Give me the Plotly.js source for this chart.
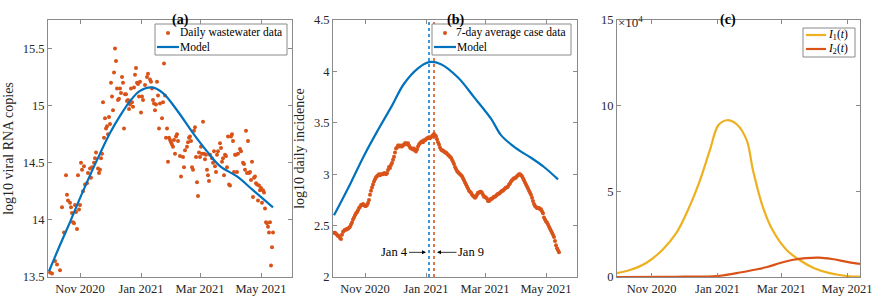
<!DOCTYPE html>
<html><head><meta charset="utf-8">
<script src="https://cdn.plot.ly/plotly-3.0.1.min.js"></script>
<style>html,body{margin:0;padding:0;background:#fff}#chart{width:874px;height:303px}</style>
</head><body><div id="chart"></div>
<script>
// ---------- Panel (a): daily wastewater data ----------
const wwDates = [
'2020-10-02','2020-10-04','2020-10-07','2020-10-09','2020-10-12','2020-10-14','2020-10-16','2020-10-18','2020-10-19','2020-10-20',
'2020-10-22','2020-10-23','2020-10-24','2020-10-25','2020-10-26','2020-10-27','2020-10-28','2020-10-29','2020-10-30','2020-10-31',
'2020-11-01','2020-11-02','2020-11-03','2020-11-04','2020-11-05','2020-11-06','2020-11-08','2020-11-09','2020-11-11','2020-11-12',
'2020-11-13','2020-11-15','2020-11-16','2020-11-17','2020-11-19','2020-11-20','2020-11-21','2020-11-22','2020-11-23','2020-11-24',
'2020-11-25','2020-11-26','2020-11-27','2020-11-28','2020-11-29','2020-11-30',
'2020-12-01','2020-12-02','2020-12-03','2020-12-04','2020-12-05','2020-12-06','2020-12-07','2020-12-08','2020-12-09','2020-12-10',
'2020-12-11','2020-12-12','2020-12-13','2020-12-14','2020-12-15','2020-12-16','2020-12-17','2020-12-18','2020-12-19','2020-12-20',
'2020-12-21','2020-12-22','2020-12-23','2020-12-24','2020-12-25','2020-12-26','2020-12-27','2020-12-28','2020-12-29','2020-12-30','2020-12-31',
'2021-01-01','2021-01-02','2021-01-03','2021-01-05','2021-01-07','2021-01-08','2021-01-10','2021-01-11','2021-01-12','2021-01-13',
'2021-01-14','2021-01-15','2021-01-16','2021-01-17','2021-01-18','2021-01-19','2021-01-20','2021-01-22','2021-01-23','2021-01-24',
'2021-01-25','2021-01-26','2021-01-27','2021-01-28','2021-01-29','2021-01-30','2021-01-31',
'2021-02-01','2021-02-02','2021-02-03','2021-02-04','2021-02-05','2021-02-06','2021-02-07','2021-02-09','2021-02-10','2021-02-12',
'2021-02-13','2021-02-14','2021-02-16','2021-02-17','2021-02-18','2021-02-19','2021-02-20','2021-02-21','2021-02-22','2021-02-23',
'2021-02-24','2021-02-25','2021-02-26','2021-02-27','2021-02-28',
'2021-03-01','2021-03-02','2021-03-03','2021-03-04','2021-03-05','2021-03-06','2021-03-07','2021-03-08','2021-03-09','2021-03-10',
'2021-03-11','2021-03-13','2021-03-14','2021-03-15','2021-03-16','2021-03-17','2021-03-18','2021-03-19','2021-03-21','2021-03-22',
'2021-03-23','2021-03-24','2021-03-25','2021-03-26','2021-03-27','2021-03-28','2021-03-29','2021-03-30','2021-03-31',
'2021-04-01','2021-04-02','2021-04-03','2021-04-04','2021-04-05','2021-04-06','2021-04-07','2021-04-08','2021-04-10','2021-04-11',
'2021-04-13','2021-04-14','2021-04-15','2021-04-16','2021-04-17','2021-04-18','2021-04-19','2021-04-20','2021-04-21','2021-04-22',
'2021-04-23','2021-04-24','2021-04-25','2021-04-26','2021-04-27','2021-04-28','2021-04-29','2021-04-30',
'2021-05-01','2021-05-02','2021-05-03','2021-05-04','2021-05-05','2021-05-06','2021-05-07','2021-05-08','2021-05-09','2021-05-10',
'2021-05-11','2021-05-12','2021-05-13'];
const wwValues = [
13.54,13.53,13.64,13.61,13.56,14.11,13.89,14.39,14.22,14.17,
14.15,14.11,14.06,13.98,13.97,14.13,14.07,13.92,14.39,14.09,
14.13,14.50,14.44,14.25,14.47,14.31,14.32,14.41,14.45,14.37,
14.46,14.50,14.54,14.59,14.45,14.41,14.44,14.54,14.58,15.03,
14.72,14.89,14.80,14.82,14.75,14.90,
14.84,15.20,15.08,14.96,15.29,15.50,15.39,15.15,15.05,15.06,
15.15,15.11,15.25,15.20,14.80,15.10,15.10,15.04,15.05,14.97,
15.01,15.15,15.03,14.99,15.16,15.27,15.33,15.20,15.19,15.08,15.21,
14.94,15.08,15.05,15.18,15.25,15.28,15.23,15.21,15.15,15.05,
15.02,14.96,15.01,15.21,15.09,14.80,15.02,14.89,15.03,15.37,
15.09,14.72,14.80,14.51,14.72,14.70,14.68,
14.66,14.64,14.70,14.58,14.73,14.75,14.69,14.56,14.38,14.55,
14.46,14.61,14.64,14.68,14.72,14.73,14.69,14.46,14.44,14.78,
14.81,14.55,14.33,14.21,14.59,
14.55,14.64,14.58,14.86,14.58,14.53,14.57,14.44,14.39,14.34,
14.57,14.54,14.50,14.60,14.47,14.42,14.57,14.60,14.67,14.63,
14.51,14.54,14.39,14.57,14.56,14.46,14.73,14.31,14.30,
14.73,14.75,14.69,14.42,14.57,14.57,14.42,14.58,14.62,14.60,
14.50,14.49,14.44,14.78,14.41,14.69,14.41,14.42,14.35,14.51,
14.20,14.37,14.38,14.32,14.31,14.17,14.30,14.26,
14.28,14.15,14.26,14.24,14.10,13.98,13.97,13.94,13.89,13.98,
13.60,13.76,13.89];
const wwModelDates = ['2020-10-01','2020-10-12','2020-10-22','2020-11-01','2020-11-11','2020-11-21','2020-12-01','2020-12-11','2020-12-21','2020-12-31',
'2021-01-12','2021-01-23','2021-02-06','2021-02-22','2021-03-08','2021-03-21','2021-04-07','2021-04-23','2021-05-13'];
const wwModelValues = [13.55,13.78,13.98,14.19,14.39,14.58,14.76,14.91,15.04,15.13,
15.16,15.11,14.96,14.76,14.60,14.47,14.38,14.26,14.11];

// ---------- Panel (b): 7-day average case data ----------
const caseStartDate = '2020-10-01';
const caseValues = [
2.43,2.43,2.42,2.41,2.40,2.40,2.38,2.37,2.41,2.44,2.45,2.46,2.46,2.47,2.47,2.48,2.49,2.51,2.53,2.56,2.58,2.60,2.62,2.63,2.65,2.67,2.68,2.70,2.70,2.71,2.70,
2.69,2.69,2.70,2.72,2.75,2.80,2.84,2.87,2.90,2.93,2.95,2.97,2.98,2.99,3.00,2.99,3.00,3.00,3.00,3.01,3.01,3.00,3.01,3.04,3.07,3.06,3.09,3.11,3.14,3.17,
3.21,3.25,3.26,3.28,3.28,3.27,3.28,3.27,3.28,3.29,3.30,3.30,3.29,3.30,3.28,3.26,3.25,3.25,3.24,3.25,3.23,3.22,3.24,3.27,3.29,3.30,3.31,3.32,3.31,3.33,3.33,
3.34,3.35,3.35,3.36,3.35,3.36,3.37,3.38,3.39,3.38,3.37,3.34,3.31,3.29,3.26,3.24,3.23,3.23,3.22,3.21,3.21,3.20,3.19,3.18,3.17,3.16,3.14,3.12,3.10,3.07,3.05,
3.03,3.02,3.01,3.00,2.99,2.98,2.96,2.94,2.92,2.90,2.88,2.86,2.84,2.83,2.82,2.80,2.79,2.78,2.77,2.78,2.80,2.82,2.82,2.83,2.83,2.82,2.80,2.78,
2.78,2.77,2.76,2.74,2.74,2.75,2.76,2.76,2.77,2.78,2.78,2.79,2.80,2.81,2.81,2.82,2.83,2.84,2.84,2.85,2.86,2.87,2.87,2.88,2.90,2.91,2.93,2.94,2.95,2.96,2.96,
2.97,2.98,2.99,3.00,3.00,2.99,2.98,2.96,2.94,2.92,2.90,2.88,2.86,2.84,2.82,2.80,2.77,2.74,2.71,2.69,2.68,2.67,2.67,2.67,2.66,2.66,2.64,2.62,2.58,2.56,
2.54,2.53,2.51,2.49,2.47,2.45,2.43,2.41,2.39,2.35,2.31,2.28,2.26,2.24];
const caseModelDates = ['2020-10-01','2020-10-18','2020-10-31','2020-11-14','2020-11-27','2020-12-10','2020-12-24','2021-01-04','2021-01-16',
'2021-02-02','2021-02-18','2021-03-07','2021-03-17','2021-03-27','2021-04-06','2021-04-16','2021-04-29','2021-05-13'];
const caseModelValues = [2.60,2.92,3.18,3.43,3.65,3.88,4.03,4.09,4.07,3.94,3.75,3.54,3.38,3.29,3.22,3.16,3.07,2.95];
const peakDates = ['2021-01-04','2021-01-09'];
const peakLabels = ['Jan 4','Jan 9'];

// ---------- Panel (c): I1(t), I2(t) ----------
const i1Dates = ['2020-09-30','2020-10-12','2020-10-27','2020-11-11','2020-11-24','2020-12-06','2020-12-15','2020-12-25','2021-01-02','2021-01-10',
'2021-01-19','2021-01-28','2021-02-03','2021-02-12','2021-02-21','2021-03-06','2021-03-18','2021-03-31','2021-04-15','2021-05-01','2021-05-13'];
const i1Values = [2300,4100,8200,15800,25700,40900,54900,74000,88700,91500,89000,80000,62000,40900,27400,15800,9900,5300,2300,600,200];
const i2Dates = ['2020-09-30','2020-11-15','2020-12-01','2020-12-31','2021-01-19','2021-02-03','2021-02-16','2021-02-28','2021-03-11','2021-03-24',
'2021-04-05','2021-04-17','2021-05-01','2021-05-13'];
const i2Values = [0,100,200,500,2300,4100,5800,8200,9900,11000,11300,10500,8800,7600];

// ---------- Tick labels / legend labels ----------
const monthTickVals = ['2020-11-01','2021-01-01','2021-03-01','2021-05-01'];
const monthTickText = ['Nov 2020','Jan 2021','Mar 2021','May 2021'];
const yTicksA = [13.5,14,14.5,15,15.5];
const yTickTextA = ['13.5','14','14.5','15','15.5'];
const yTicksB = [2,2.5,3,3.5,4,4.5];
const yTickTextB = ['2','2.5','3','3.5','4','4.5'];
const yTicksC = [0,50000,100000,150000];
const yTickTextC = ['0','5','10','15'];
const legendA = ['Daily wastewater data','Model'];
const legendB = ['7-day average case data','Model'];
const legendC = ['<i>I</i><sub>1</sub>(<i>t</i>)','<i>I</i><sub>2</sub>(<i>t</i>)'];

// daily dates for the case series
const caseDates = [];
(function(){
  const d0 = new Date(caseStartDate + 'T00:00:00Z');
  for (let i = 0; i < caseValues.length; i++) {
    caseDates.push(new Date(d0.getTime() + i*86400000).toISOString().slice(0,10));
  }
})();

const BLUE = '#0072BD', ORANGE = '#D95319', YELLOW = '#EDB120';
const SERIF = 'Liberation Serif, Times New Roman, serif';
const AXC = '#8a8a8a';
const W = 874, H = 303;
const yDom = [1-277/H, 1-20/H];
const px = v => v/W, py = v => 1 - v/H;
const TICK = 12.5;

function xax(dom, range, anchor) {
  return {domain: dom, range: range, type: 'date', anchor: anchor,
    tickmode: 'array', tickvals: monthTickVals, ticktext: monthTickText,
    ticks: 'inside', ticklen: 4, tickwidth: 1, tickcolor: AXC,
    showline: true, linecolor: AXC, linewidth: 1, mirror: 'ticks',
    showgrid: false, zeroline: false,
    tickfont: {family: SERIF, size: TICK, color: '#262626'}};
}
function yax(range, tv, tt, anchor, title) {
  const o = {domain: yDom, range: range, anchor: anchor,
    tickmode: 'array', tickvals: tv, ticktext: tt,
    ticks: 'inside', ticklen: 4, tickwidth: 1, tickcolor: AXC,
    showline: true, linecolor: AXC, linewidth: 1, mirror: 'ticks',
    showgrid: false, zeroline: false,
    tickfont: {family: SERIF, size: TICK, color: '#262626'}};
  if (title) o.title = {text: title, font: {family: SERIF, size: 14, color: '#262626'}, standoff: 5};
  return o;
}

const traces = [
  {x: wwDates, y: wwValues, type: 'scatter', mode: 'markers', name: legendA[0],
   marker: {color: ORANGE, size: 4}, xaxis: 'x', yaxis: 'y'},
  {x: wwModelDates, y: wwModelValues, type: 'scatter', mode: 'lines', name: legendA[1],
   line: {color: BLUE, width: 2.2, shape: 'spline', smoothing: 1}, xaxis: 'x', yaxis: 'y'},

  {x: [peakDates[0], peakDates[0]], y: [2, 4.5], type: 'scatter', mode: 'lines', name: peakLabels[0],
   line: {color: '#3d94d6', width: 2, dash: 'dot'}, xaxis: 'x2', yaxis: 'y2'},
  {x: [peakDates[1], peakDates[1]], y: [2, 4.5], type: 'scatter', mode: 'lines', name: peakLabels[1],
   line: {color: '#e0764a', width: 2, dash: 'dot'}, xaxis: 'x2', yaxis: 'y2'},
  {x: caseDates, y: caseValues, type: 'scatter', mode: 'markers', name: legendB[0],
   marker: {color: ORANGE, size: 4}, xaxis: 'x2', yaxis: 'y2'},
  {x: caseModelDates, y: caseModelValues, type: 'scatter', mode: 'lines', name: legendB[1],
   line: {color: BLUE, width: 2.2, shape: 'spline', smoothing: 1}, xaxis: 'x2', yaxis: 'y2'},

  {x: i1Dates, y: i1Values, type: 'scatter', mode: 'lines', name: legendC[0],
   line: {color: YELLOW, width: 2.2, shape: 'spline', smoothing: 1}, xaxis: 'x3', yaxis: 'y3'},
  {x: i2Dates, y: i2Values, type: 'scatter', mode: 'lines', name: legendC[1],
   line: {color: ORANGE, width: 2.2, shape: 'spline', smoothing: 1}, xaxis: 'x3', yaxis: 'y3'}
];

// compact MATLAB-style legends (box, samples and labels)
const shapes = [];
const annotations = [];
function addLegend(box, items) {
  shapes.push({type: 'rect', xref: 'paper', yref: 'paper', x0: px(box[0]), x1: px(box[1]), y0: py(box[3]), y1: py(box[2]),
    line: {color: AXC, width: 1}, fillcolor: '#fff', layer: 'above'});
  items.forEach(it => {
    if (it.kind === 'marker') {
      shapes.push({type: 'circle', xref: 'paper', yref: 'paper', x0: px(it.mx-2), x1: px(it.mx+2), y0: py(it.y+2), y1: py(it.y-2),
        line: {width: 0}, fillcolor: it.color, layer: 'above'});
    } else {
      shapes.push({type: 'line', xref: 'paper', yref: 'paper', x0: px(it.l0), x1: px(it.l1), y0: py(it.y), y1: py(it.y),
        line: {color: it.color, width: 2.2}, layer: 'above'});
    }
    annotations.push({text: it.text, x: px(it.tx), y: py(it.y), xref: 'paper', yref: 'paper', xanchor: 'left', yanchor: 'middle',
      showarrow: false, font: {family: SERIF, size: 11.5, color: '#000'}});
  });
}
addLegend([155, 287, 24, 55], [
  {kind: 'marker', mx: 168, y: 33, color: ORANGE, text: legendA[0], tx: 178},
  {kind: 'line', l0: 157, l1: 179, y: 47, color: BLUE, text: legendA[1], tx: 178}]);
addLegend([432, 571, 24, 55], [
  {kind: 'marker', mx: 445, y: 33, color: ORANGE, text: legendB[0], tx: 454},
  {kind: 'line', l0: 434, l1: 456, y: 47, color: BLUE, text: legendB[1], tx: 455}]);
addLegend([803, 855, 28, 57], [
  {kind: 'line', l0: 806, l1: 826, y: 35, color: YELLOW, text: legendC[0], tx: 826},
  {kind: 'line', l0: 806, l1: 826, y: 49, color: ORANGE, text: legendC[1], tx: 826}]);

annotations.push(
  {text: '<b>(a)</b>', x: px(170), y: py(10), xref: 'paper', yref: 'paper', showarrow: false, font: {family: SERIF, size: 14, color: '#000'}},
  {text: '<b>(b)</b>', x: px(455), y: py(10), xref: 'paper', yref: 'paper', showarrow: false, font: {family: SERIF, size: 14, color: '#000'}},
  {text: '<b>(c)</b>', x: px(738), y: py(10), xref: 'paper', yref: 'paper', showarrow: false, font: {family: SERIF, size: 14, color: '#000'}},
  {text: '×10<sup>4</sup>', x: px(616), y: py(12), xref: 'paper', yref: 'paper', xanchor: 'left', showarrow: false, font: {family: SERIF, size: 13, color: '#262626'}},
  {text: peakLabels[0], x: peakDates[0], y: 2.24, xref: 'x2', yref: 'y2', showarrow: true, axref: 'pixel', ayref: 'pixel',
   ax: -35, ay: 0, arrowhead: 2, arrowsize: 1, arrowwidth: 0.8, arrowcolor: '#000', standoff: 3,
   font: {family: SERIF, size: 12.5, color: '#000'}},
  {text: peakLabels[1], x: peakDates[1], y: 2.24, xref: 'x2', yref: 'y2', showarrow: true, axref: 'pixel', ayref: 'pixel',
   ax: 37, ay: 0, arrowhead: 2, arrowsize: 1, arrowwidth: 0.8, arrowcolor: '#000', standoff: 3,
   font: {family: SERIF, size: 12.5, color: '#000'}}
);

const layout = {
  width: W, height: H, margin: {l: 0, r: 0, t: 0, b: 0},
  paper_bgcolor: '#fff', plot_bgcolor: '#fff', showlegend: false,
  font: {family: SERIF, color: '#262626'},
  xaxis: xax([px(48), px(292)], ['2020-09-30','2021-06-01'], 'y'),
  yaxis: yax([13.5, 15.75], yTicksA, yTickTextA, 'x', 'log10 viral RNA copies'),
  xaxis2: xax([px(333), px(577)], ['2020-09-30','2021-06-01'], 'y2'),
  yaxis2: yax([2, 4.5], yTicksB, yTickTextB, 'x2', 'log10 daily incidence'),
  xaxis3: xax([px(617), px(860)], ['2020-09-30','2021-05-13'], 'y3'),
  yaxis3: yax([0, 150000], yTicksC, yTickTextC, 'x3', null),
  shapes: shapes,
  annotations: annotations
};

Plotly.newPlot('chart', traces, layout, {displayModeBar: false, staticPlot: true});
</script></body></html>
